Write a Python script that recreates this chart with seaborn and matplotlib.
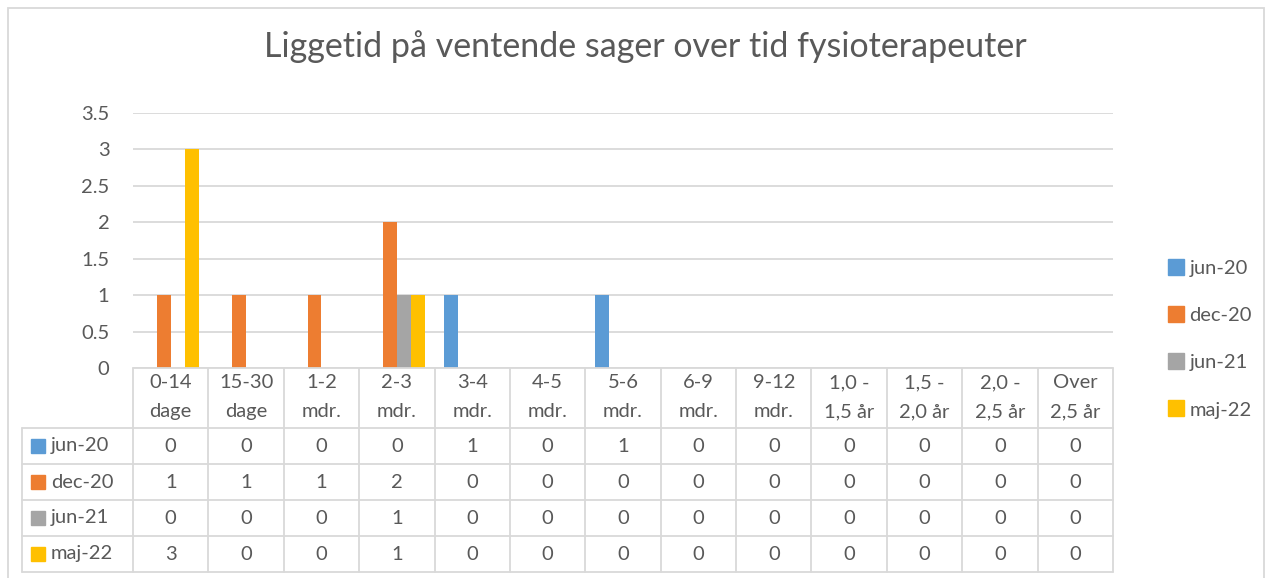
import pandas as pd
import matplotlib.pyplot as plt
import seaborn as sns
from matplotlib import patches
from matplotlib.lines import Line2D

W, H = 1272, 578
px = 1/100

categories = ['0-14\ndage', '15-30\ndage', '1-2\nmdr.', '2-3\nmdr.', '3-4\nmdr.', '4-5\nmdr.',
              '5-6\nmdr.', '6-9\nmdr.', '9-12\nmdr.', '1,0 -\n1,5 år', '1,5 -\n2,0 år',
              '2,0 -\n2,5 år', 'Over\n2,5 år']
series = ['jun-20', 'dec-20', 'jun-21', 'maj-22']
jun20 = [0, 0, 0, 0, 1, 0, 1, 0, 0, 0, 0, 0, 0]
dec20 = [1, 1, 1, 2, 0, 0, 0, 0, 0, 0, 0, 0, 0]
jun21 = [0, 0, 0, 1, 0, 0, 0, 0, 0, 0, 0, 0, 0]
maj22 = [3, 0, 0, 1, 0, 0, 0, 0, 0, 0, 0, 0, 0]
colors = ['#5B9BD5', '#ED7D31', '#A5A5A5', '#FFC000']
title = 'Liggetid på ventende sager over tid fysioterapeuter'

values = [jun20, dec20, jun21, maj22]
df = pd.DataFrame({
    'kategori': categories * len(series),
    'serie': [s for s in series for _ in categories],
    'antal': [v for vals in values for v in vals],
})

sns.set_style('white')
plt.rcParams['font.family'] = ['Lato', 'DejaVu Sans']
txt = '#595959'
line = '#D9D9D9'
fs = 14.5

fig = plt.figure(figsize=(W*px, H*px), dpi=100)

# chart area
left, right, top, bottom = 133, 1113, 113, 368
ax = fig.add_axes([left/W, 1 - bottom/H, (right-left)/W, (bottom-top)/H])
sns.barplot(data=df, x='kategori', y='antal', hue='serie', order=categories,
            hue_order=series, palette=colors, width=0.74, saturation=1,
            linewidth=0, ax=ax, legend=False)
ax.set_xlim(-0.5, len(categories) - 0.5)
ax.set_ylim(0, 3.5)
ax.set_yticks([i * 0.5 for i in range(8)])
ax.set_yticklabels(['0', '0.5', '1', '1.5', '2', '2.5', '3', '3.5'])
ax.set_xticks([])
ax.set_xlabel('')
ax.set_ylabel('')
ax.tick_params(axis='y', length=0, pad=17, labelsize=fs, labelcolor=txt)
ax.yaxis.grid(True, color=line, linewidth=1.3)
ax.set_axisbelow(True)
for s in ax.spines.values():
    s.set_visible(False)

# data table below the chart
tb_left, tb_bottom = 22, 572
tab = fig.add_axes([tb_left/W, 1 - tb_bottom/H, (right-tb_left)/W, (tb_bottom-bottom)/H])
label_w = (left - tb_left) / ((right - left) / len(categories))
x0 = -0.5 - label_w
x1 = len(categories) - 0.5
head_h = 60
row_h = (tb_bottom - bottom - head_h) / len(series)
tab.set_xlim(x0, x1)
tab.set_ylim(tb_bottom - bottom, 0)
tab.axis('off')

lw = 1.3
tab.plot([-0.5, x1], [0, 0], color=line, lw=lw, clip_on=False)
for r in range(len(series) + 1):
    y = head_h + r * row_h
    tab.plot([x0, x1], [y, y], color=line, lw=lw, clip_on=False)
tab.plot([x0, x0], [head_h, head_h + len(series) * row_h], color=line, lw=lw, clip_on=False)
for k in range(len(categories) + 1):
    tab.plot([k - 0.5, k - 0.5], [0, head_h + len(series) * row_h], color=line, lw=lw, clip_on=False)

for i, c in enumerate(categories):
    tab.text(i, head_h / 2 - 1, c, ha='center', va='center', fontsize=fs, color=txt, linespacing=1.85)

unit = (right - left) / len(categories)
for r, (s, col, vals) in enumerate(zip(series, colors, values)):
    yc = head_h + (r + 0.5) * row_h
    sw_x = -0.5 + (31 - left) / unit
    tab.add_patch(patches.Rectangle((sw_x, yc - 7), 14 / unit, 14, color=col, clip_on=False))
    tab.text(-0.5 + (51 - left) / unit, yc, s, ha='left', va='center', fontsize=fs, color=txt)
    for i, v in enumerate(vals):
        tab.text(i, yc, str(v), ha='center', va='center', fontsize=fs, color=txt)

# legend
handles = [Line2D([], [], marker='s', linestyle='', markersize=11, color=c) for c in colors]
fig.legend(handles, series, loc='center left', bbox_to_anchor=(1148/W, 1 - 339/H),
           frameon=False, fontsize=fs, labelcolor=txt, labelspacing=1.5,
           handletextpad=0.15, handlelength=1.0)

fig.text(645/W, 1 - 47/H, title, ha='center', va='center', fontsize=24.5, color=txt)

fig.patches.append(patches.Rectangle((8/W, -0.01), (1264-8)/W, 1 - 8/H + 0.01,
                                     transform=fig.transFigure, fill=False,
                                     edgecolor=line, linewidth=1.3))

fig.savefig('out.png', dpi=100)
